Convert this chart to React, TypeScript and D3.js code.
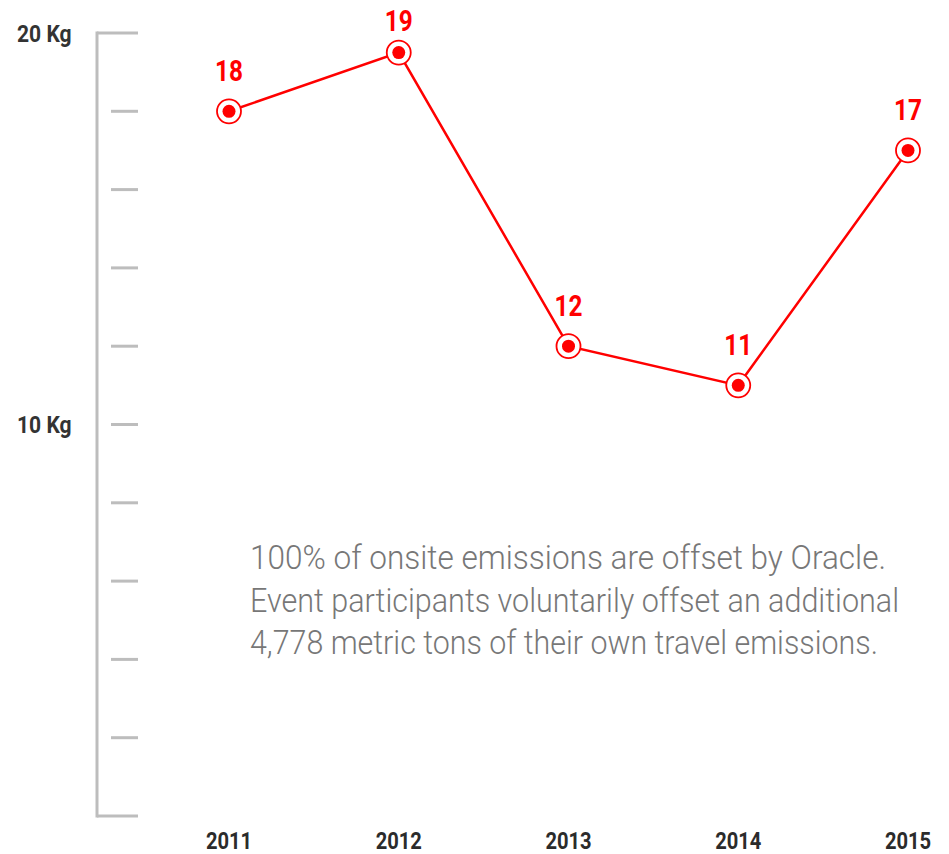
import React from "react";
import * as d3 from "d3";

const years = ["2011", "2012", "2013", "2014", "2015"];
const values = [18, 19.5, 12, 11, 17];
const valueLabels = ["18", "19", "12", "11", "17"];
const yTickValues = [0, 2, 4, 6, 8, 10, 12, 14, 16, 18, 20];
const yLabelValues = [20, 10];
const yLabelTexts = ["20 Kg", "10 Kg"];
const noteLines = [
  "100% of onsite emissions are offset by Oracle.",
  "Event participants voluntarily offset an additional",
  "4,778 metric tons of their own travel emissions.",
];
const noteWidths = [636, 649, 628];

const W = 949;
const H = 854;
const RED = "#ff0000";
const AXIS = "#bdbdbd";
const FONT = "Roboto, 'Open Sans', sans-serif";
const SQ = 0.84;

export default function App() {
  const x = d3.scalePoint<string>().domain(years).range([229, 908]);
  const y = d3.scaleLinear().domain([0, 20]).range([816, 33]);
  const axisX = 97;
  const tickEnd = 138;

  const line = d3
    .line<number>()
    .x((_, i) => x(years[i]) as number)
    .y((d) => y(d));

  return (
    <svg
      width={W}
      height={H}
      style={{ position: "absolute", left: 0, top: 0, background: "#fff" }}
    >
      {/* axis */}
      <line x1={axisX} x2={axisX} y1={y(20)} y2={y(0)} stroke={AXIS} strokeWidth={3} strokeLinecap="square" />
      {yTickValues.map((v) => {
        const edge = v === 0 || v === 20;
        return (
          <line
            key={v}
            x1={edge ? axisX : 111}
            x2={tickEnd}
            y1={y(v)}
            y2={y(v)}
            stroke={AXIS}
            strokeWidth={3}
          />
        );
      })}
      {yLabelValues.map((v, i) => (
        <text
          key={v}
          transform={`translate(17,${y(v) + 8.5}) scale(0.86,1)`}
          fontFamily={FONT}
          fontWeight={700}
          fontSize={24.5}
          fill="#333"
        >
          {yLabelTexts[i]}
        </text>
      ))}

      {/* x labels */}
      {years.map((yr) => (
        <text
          key={yr}
          transform={`translate(${x(yr)},848.5) scale(${SQ},1)`}
          textAnchor="middle"
          fontFamily={FONT}
          fontWeight={700}
          fontSize={24}
          fill="#2b2b2b"
        >
          {yr}
        </text>
      ))}

      {/* note */}
      {noteLines.map((t, i) => (
        <text
          key={i}
          x={250}
          y={569 + i * 42.5}
          fontFamily={FONT}
          fontWeight={300}
          fontSize={33}
          fill="#777"
          textLength={noteWidths[i]}
          lengthAdjust="spacingAndGlyphs"
        >
          {t}
        </text>
      ))}

      {/* series */}
      <path d={line(values) || ""} fill="none" stroke={RED} strokeWidth={2.5} />
      {values.map((v, i) => (
        <g key={years[i]}>
          <circle cx={x(years[i])} cy={y(v)} r={12} fill="#fff" stroke={RED} strokeWidth={1.8} />
          <circle cx={x(years[i])} cy={y(v)} r={6.5} fill={RED} />
          <text
            transform={`translate(${x(years[i])},${Math.max(y(v) - 30, 31)}) scale(${SQ},1)`}
            textAnchor="middle"
            fontFamily={FONT}
            fontWeight={700}
            fontSize={29}
            fill={RED}
          >
            {valueLabels[i]}
          </text>
        </g>
      ))}
    </svg>
  );
}
